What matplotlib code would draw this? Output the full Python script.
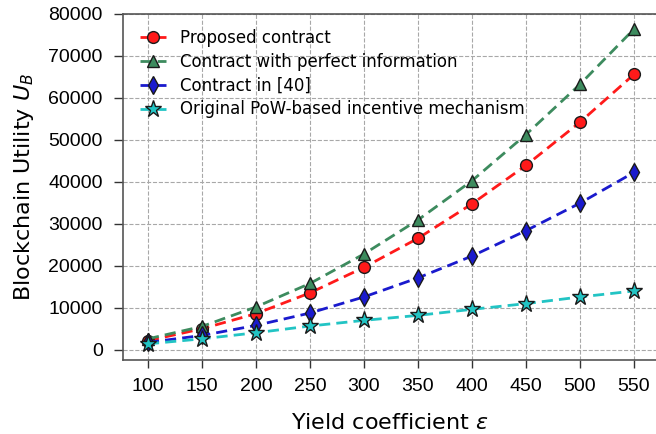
import matplotlib
matplotlib.use("Agg")
import matplotlib.pyplot as plt

eps = [100, 150, 200, 250, 300, 350, 400, 450, 500, 550]
proposed = [2100, 4950, 8550, 13500, 19590, 26510, 34730, 43900, 54200, 65600]
perfect = [2550, 5500, 10150, 15750, 22780, 30900, 40240, 51260, 63230, 76400]
contract40 = [1700, 3350, 5750, 8700, 12540, 17080, 22280, 28340, 34900, 42230]
pow_mech = [1350, 2550, 4000, 5600, 6950, 8140, 9580, 10940, 12530, 13960]

labels = ["Proposed contract", "Contract with perfect information",
          "Contract in [40]", "Original PoW-based incentive mechanism"]
xticks = [100, 150, 200, 250, 300, 350, 400, 450, 500, 550]
yticks = [0, 10000, 20000, 30000, 40000, 50000, 60000, 70000, 80000]

fig = plt.figure(figsize=(6.56, 4.34), dpi=100)
ax = fig.add_axes([123/656, 1-360/434, 1-123/656, (360-14)/434])

styles = [
    (proposed, '#ff1a1a', 'o', 8.5),
    (perfect, '#3d8b5e', '^', 9),
    (contract40, '#1a1acd', 'd', 9),
    (pow_mech, '#22c4c4', '*', 12.5),
]
for (vals, c, m, ms), lab in zip(styles, labels):
    ax.plot(eps, vals, linestyle='--', color=c, linewidth=2, marker=m,
            markersize=ms, markerfacecolor=c, markeredgecolor='#1a1a1a',
            markeredgewidth=1.0, label=lab, dashes=(4, 2.2))

ax.set_xlim(76.85, 570.4)
ax.set_ylim(-2500, 80000)
ax.set_xticks(xticks)
ax.set_yticks(yticks)
tick_font = {'family': ['Liberation Sans', 'DejaVu Sans'], 'size': 14}
ax.set_xticklabels([str(v) for v in xticks], fontdict=tick_font)
ax.set_yticklabels([str(v) for v in yticks], fontdict=tick_font)
ax.tick_params(axis='x', direction='out', length=6, width=1, color='#333333', pad=7)
ax.tick_params(axis='y', direction='out', length=6.5, width=1, color='#333333', pad=8)
ax.grid(True, linestyle='--', color='#a8a8a8', linewidth=0.8)
ax.spines['right'].set_visible(False)
for s in ['left', 'top', 'bottom']:
    ax.spines[s].set_color('#555555')
    ax.spines[s].set_linewidth(1.2)

ax.set_xlabel(r'Yield coefficient $\varepsilon$', fontsize=16, labelpad=13)
ax.set_ylabel(r'Blockchain Utility $U_B$', fontsize=16, labelpad=9)

leg = ax.legend(loc='upper left', frameon=False, fontsize=12,
                handlelength=1.6, borderaxespad=0.5, labelspacing=0.35,
                bbox_to_anchor=(0.003, 1.0))

fig.savefig('out.png', dpi=100)
